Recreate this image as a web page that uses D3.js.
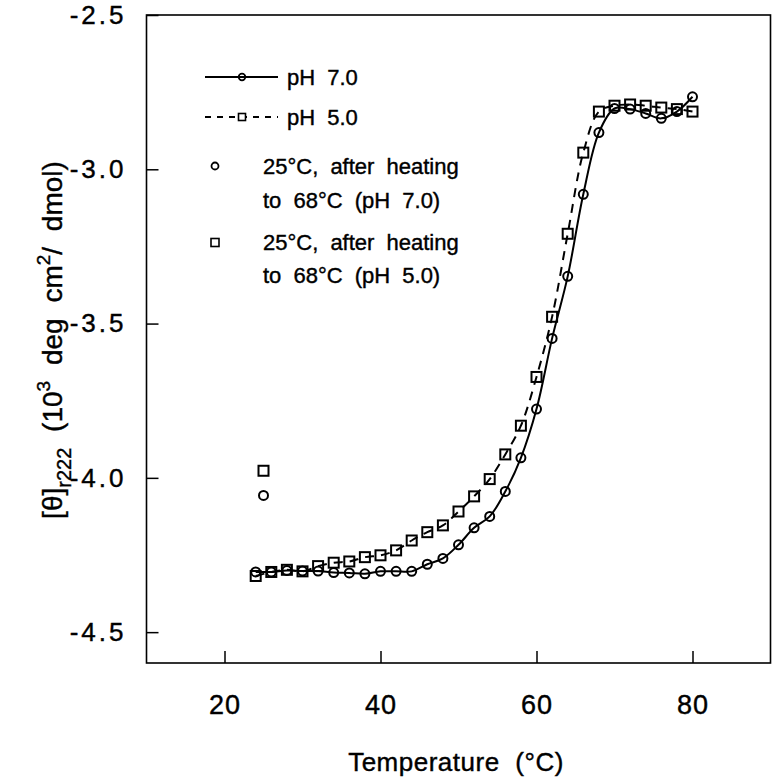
<!DOCTYPE html>
<html><head><meta charset="utf-8">
<script src="https://cdn.jsdelivr.net/npm/d3@7"></script>
<style>
body{margin:0;background:#fff}
text{font-family:"Liberation Sans",Arial,Helvetica,sans-serif;fill:#000;stroke:#000;stroke-width:0.4px}
</style></head><body>
<svg id="c" width="781" height="784"></svg>
<script>
// ---- data ----
const temps = [24,26,28,30,32,34,36,38,40,42,44,46,48,50,52,54,56,58,60,62,64,66,68,70,72,74,76,78,80];
const ph7 = [-4.305,-4.305,-4.300,-4.302,-4.302,-4.307,-4.308,-4.311,-4.303,-4.303,-4.303,-4.280,-4.261,-4.217,-4.162,-4.125,-4.044,-3.935,-3.777,-3.548,-3.347,-3.081,-2.881,-2.803,-2.805,-2.819,-2.835,-2.813,-2.765];
const ph5 = [-4.318,-4.305,-4.298,-4.303,-4.286,-4.275,-4.271,-4.257,-4.251,-4.235,-4.203,-4.176,-4.154,-4.109,-4.060,-4.004,-3.924,-3.831,-3.673,-3.478,-3.209,-2.946,-2.813,-2.794,-2.790,-2.794,-2.800,-2.805,-2.813];
const reheatT = [25];
const reheat7 = [-4.057];
const reheat5 = [-3.977];
const xTickVals = [20,40,60,80];
const yTickVals = [-2.5,-3.0,-3.5,-4.0,-4.5];
const xDomain = [10,90];
const yDomain = [-4.6,-2.5];

// ---- chart ----
const svg = d3.select("#c");
const L=146.5, R=770.5, T=15, B=663;
const x = d3.scaleLinear().domain(xDomain).range([L,R]);
const y = d3.scaleLinear().domain(yDomain).range([B,T]);

// frame
svg.append("rect").attr("x",L).attr("y",T).attr("width",R-L).attr("height",B-T)
  .attr("fill","none").attr("stroke","#000").attr("stroke-width",1.6);

// x axis: minor ticks every 4, major every 20
const xMinor = d3.range(12,90,4);
const gx = svg.append("g").attr("transform",`translate(0,${B})`);
gx.call(d3.axisBottom(x).tickValues(xMinor).tickSize(-6).tickFormat(""));
gx.call(d3.axisBottom(x).tickValues(xTickVals).tickSize(-12).tickPadding(32).tickFormat(d3.format("d")));
gx.select(".domain").remove();
gx.selectAll("line").attr("stroke","#000").attr("stroke-width",1.5);
gx.selectAll("text").style("font-size","27px").style("letter-spacing","1px");

// y axis: minor every 0.1
const yMinor = d3.range(-4.6,-2.49,0.1).map(v=>+v.toFixed(1));
const gy = svg.append("g").attr("transform",`translate(${L},0)`);
gy.call(d3.axisLeft(y).tickValues(yMinor).tickSize(-7).tickFormat(""));
gy.call(d3.axisLeft(y).tickValues(yTickVals).tickSize(-12).tickPadding(20).tickFormat(v=>v.toFixed(1)));
gy.select(".domain").remove();
gy.selectAll("line").attr("stroke","#000").attr("stroke-width",1.5);
gy.selectAll("text").style("font-size","26px").style("letter-spacing","3px");

// curves
const line = (vals)=>d3.line().x((d,i)=>x(temps[i])).y(d=>y(d)).curve(d3.curveCatmullRom.alpha(0.5))(vals);
svg.append("path").attr("d",line(ph7)).attr("fill","none").attr("stroke","#000").attr("stroke-width",2);
svg.append("path").attr("d",line(ph5)).attr("fill","none").attr("stroke","#000").attr("stroke-width",2).attr("stroke-dasharray","9,7");

// markers
svg.append("g").selectAll("circle").data(ph7).join("circle")
  .attr("cx",(d,i)=>x(temps[i])).attr("cy",d=>y(d)).attr("r",4.5)
  .attr("fill","none").attr("stroke","#000").attr("stroke-width",2);
svg.append("g").selectAll("rect").data(ph5).join("rect")
  .attr("x",(d,i)=>x(temps[i])-5).attr("y",d=>y(d)-5).attr("width",10).attr("height",10)
  .attr("fill","none").attr("stroke","#000").attr("stroke-width",2);
svg.append("g").selectAll("circle").data(reheat7).join("circle")
  .attr("cx",(d,i)=>x(reheatT[i])).attr("cy",d=>y(d)).attr("r",4.5)
  .attr("fill","none").attr("stroke","#000").attr("stroke-width",2);
svg.append("g").selectAll("rect").data(reheat5).join("rect")
  .attr("x",(d,i)=>x(reheatT[i])-5).attr("y",d=>y(d)-5).attr("width",10).attr("height",10)
  .attr("fill","none").attr("stroke","#000").attr("stroke-width",2);

// legend
const lg = svg.append("g");
const fs = "22px", ws = "6px";
lg.append("line").attr("x1",205).attr("x2",278).attr("y1",77).attr("y2",77).attr("stroke","#000").attr("stroke-width",1.8);
lg.append("circle").attr("cx",242).attr("cy",77).attr("r",3.3).attr("fill","none").attr("stroke","#000").attr("stroke-width",1.8);
lg.append("text").attr("x",287).attr("y",77).attr("dy","0.35em").style("font-size",fs).style("word-spacing",ws).text("pH 7.0");
lg.append("line").attr("x1",205).attr("x2",278).attr("y1",117).attr("y2",117).attr("stroke","#000").attr("stroke-width",1.8).attr("stroke-dasharray","6,6");
lg.append("rect").attr("x",238.5).attr("y",113.5).attr("width",7).attr("height",7).attr("fill","#fff").attr("stroke","#000").attr("stroke-width",1.6);
lg.append("text").attr("x",287).attr("y",117).attr("dy","0.35em").style("font-size",fs).style("word-spacing",ws).text("pH 5.0");
lg.append("circle").attr("cx",215).attr("cy",166).attr("r",3.5).attr("fill","none").attr("stroke","#000").attr("stroke-width",1.8);
lg.append("text").attr("x",263).attr("y",166).attr("dy","0.35em").style("font-size",fs).style("word-spacing",ws).text("25°C, after heating");
lg.append("text").attr("x",263).attr("y",200).attr("dy","0.35em").style("font-size",fs).style("word-spacing",ws).text("to 68°C (pH 7.0)");
lg.append("rect").attr("x",211).attr("y",238.5).attr("width",8).attr("height",8).attr("fill","none").attr("stroke","#000").attr("stroke-width",1.6);
lg.append("text").attr("x",263).attr("y",242).attr("dy","0.35em").style("font-size",fs).style("word-spacing",ws).text("25°C, after heating");
lg.append("text").attr("x",263).attr("y",275).attr("dy","0.35em").style("font-size",fs).style("word-spacing",ws).text("to 68°C (pH 5.0)");

// axis titles
svg.append("text").attr("x",456).attr("y",762).attr("dy","0.35em").attr("text-anchor","middle")
  .style("font-size","26px").style("word-spacing","8px").style("letter-spacing","0.5px").text("Temperature (°C)");
const yt = svg.append("text").attr("transform","translate(62,340) rotate(-90)").attr("text-anchor","middle")
  .style("font-size","28px");
yt.append("tspan").text("[θ]");
yt.append("tspan").attr("dy",9).style("font-size","20px").text("r222");
yt.append("tspan").attr("dy",-9).style("word-spacing","8px").text(" (10");
yt.append("tspan").attr("dy",-12).style("font-size","19px").text("3");
yt.append("tspan").attr("dy",12).style("word-spacing","8px").text(" deg cm");
yt.append("tspan").attr("dy",-12).style("font-size","19px").text("2");
yt.append("tspan").attr("dy",12).style("word-spacing","8px").text("/ dmol)");
</script></body></html>
